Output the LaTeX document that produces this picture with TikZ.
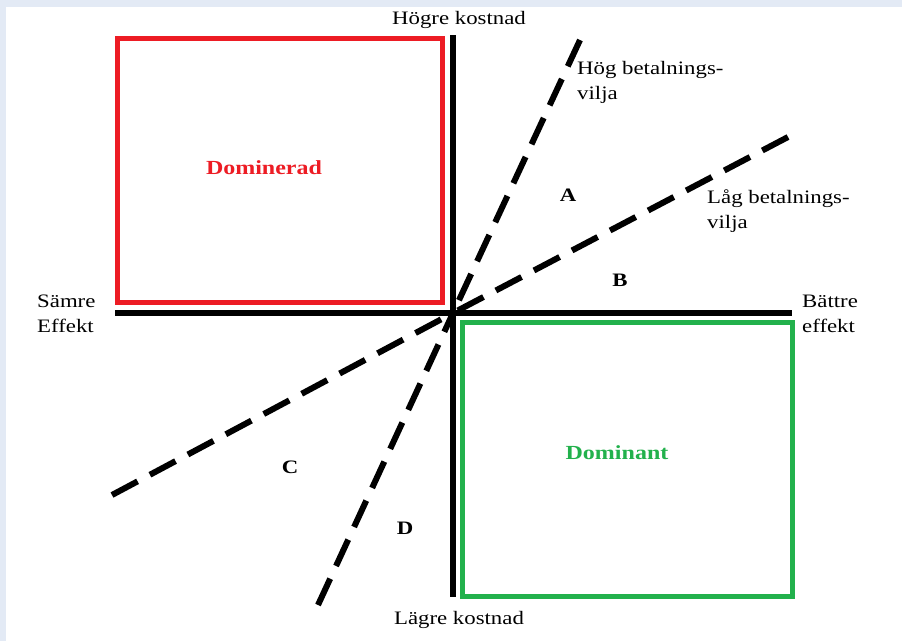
\documentclass[tikz,border=0pt]{standalone}
\usepackage{fontspec}
\setmainfont{Liberation Serif}[FakeStretch=1.2]
\definecolor{frame}{HTML}{E3EAF5}
\definecolor{pred}{HTML}{ED1C24}
\definecolor{pgreen}{HTML}{22B14C}
\begin{document}
\begin{tikzpicture}[x=1pt,y=-1pt,
  axis/.style={line width=6pt,black},
  dline/.style={line width=6pt,black,dash pattern=on 29pt off 14pt},
  lbl/.style={font=\fontsize{19}{25}\selectfont,inner sep=0pt,align=left},
  region/.style={font=\fontsize{19}{25}\selectfont\bfseries,inner sep=0pt},
  boxlbl/.style={font=\fontsize{20}{24}\selectfont\bfseries,inner sep=0pt}]
\useasboundingbox (0,0) rectangle (902,641);
\fill[frame] (0,0) rectangle (902,641);
\fill[white] (6,7) rectangle (902,641);
% boxes
\node[draw=pred,line width=5pt,minimum width=325pt,minimum height=264pt,inner sep=0pt] (dom) at (279.5,170) {};
\node[draw=pgreen,line width=5pt,minimum width=330pt,minimum height=274pt,inner sep=0pt] (dnt) at (627,459) {};
% axes
\coordinate (o) at (453,313);
\coordinate (top) at (453,35);
\coordinate (bot) at (453,597);
\coordinate (left) at (115,313);
\coordinate (right) at (792,313);
\draw[axis] (top) -- (bot);
\draw[axis] (left) -- (right);
% dashed lines
\coordinate (s1) at (580,40);
\coordinate (s2) at (318,605);
\coordinate (f1) at (788,137);
\coordinate (f2) at (112,495);
\draw[dline] (s1) -- (o);
\draw[dline] (s2) -- (o);
\draw[dline] (f1) -- (o);
\draw[dline] (f2) -- (o);
% labels
\node[lbl] (hk) at (459,20) {Högre kostnad};
\node[lbl] (lk) at (459,620) {Lägre kostnad};
\node[lbl,anchor=west] (se) at (37,314) {Sämre\\Effekt};
\node[lbl,anchor=west] (be) at (802,314) {Bättre\\effekt};
\node[lbl,anchor=west,align=left] (hb) at (577,82) {Hög betalnings-\\vilja};
\node[lbl,anchor=west,align=left] (lb) at (707,211) {Låg betalnings-\\vilja};
\node[boxlbl,text=pred] (t1) at (264,168) {Dominerad};
\node[boxlbl,text=pgreen] (t2) at (617,453) {Dominant};
\node[region] (A) at (568,195) {A};
\node[region] (B) at (620,280) {B};
\node[region] (C) at (290,467) {C};
\node[region] (D) at (405,528) {D};
\end{tikzpicture}
\end{document}
